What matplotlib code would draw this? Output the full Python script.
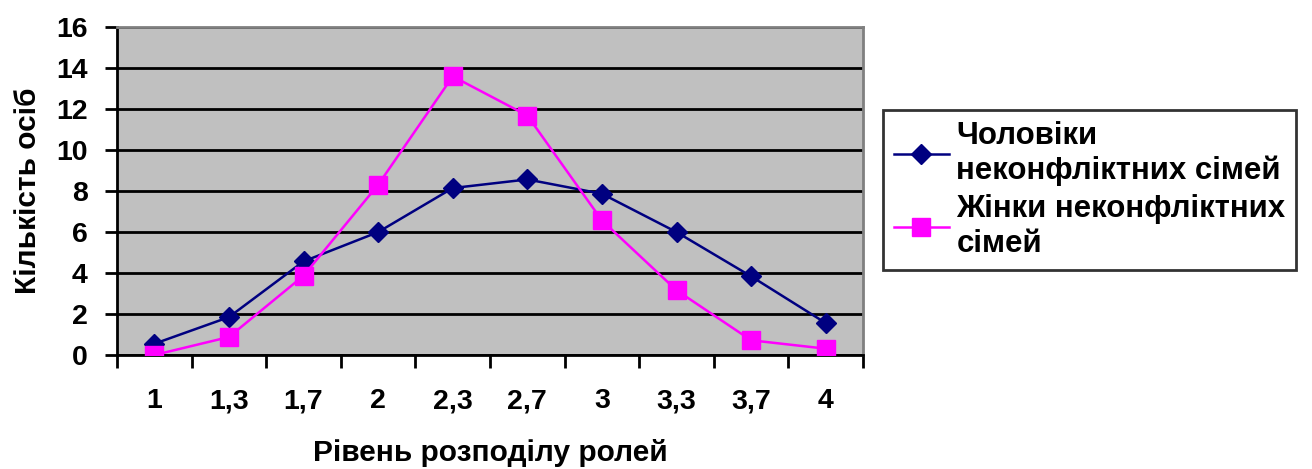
import matplotlib.pyplot as plt
from matplotlib.ticker import FixedLocator

plt.rcParams['font.family'] = ['Liberation Sans', 'DejaVu Sans']
plt.rcParams['font.weight'] = 'bold'

categories = ['1', '1,3', '1,7', '2', '2,3', '2,7', '3', '3,3', '3,7', '4']
men = [0.55, 1.85, 4.57, 6.0, 8.15, 8.57, 7.87, 6.0, 3.84, 1.56]
women = [0.0, 0.88, 3.87, 8.31, 13.6, 11.69, 6.57, 3.16, 0.72, 0.31]
men_label = 'Чоловіки\nнеконфліктних сімей'
women_label = 'Жінки неконфліктних\nсімей'

fig = plt.figure(figsize=(13.12, 4.69), dpi=100)
ax = fig.add_axes([0.0892, 0.243, 0.5686, 0.699])
ax.set_facecolor('#C0C0C0')

xs = list(range(len(categories)))
ax.plot(xs, men, color='#000080', marker='D', markersize=10, linewidth=1.8,
        label=men_label, zorder=3)
ax.plot(xs, women, color='#FF00FF', marker='s', markersize=13, linewidth=1.8,
        label=women_label, zorder=3)

ax.set_xlim(-0.5, len(categories) - 0.5)
ax.set_ylim(0, 16)
ax.set_yticks(range(0, 17, 2))
ax.yaxis.grid(True, color='black', linewidth=2)
ax.set_axisbelow(True)

ax.set_xticks(xs)
ax.set_xticklabels(categories)
ax.xaxis.set_minor_locator(FixedLocator([i - 0.5 for i in range(len(categories) + 1)]))
ax.tick_params(axis='x', which='major', length=0, pad=24, labelsize=20.5)
ax.tick_params(axis='x', which='minor', length=9, width=2, direction='out')
ax.tick_params(axis='y', length=9, width=2, direction='out', labelsize=20.5, pad=12)

for side in ['left', 'bottom']:
    ax.spines[side].set_color('black')
    ax.spines[side].set_linewidth(2)
for side in ['top', 'right']:
    ax.spines[side].set_color('#808080')
    ax.spines[side].set_linewidth(2)

ax.set_xlabel('Рівень розподілу ролей', fontsize=21.5, fontweight='bold', labelpad=18)
ax.set_ylabel('Кількість осіб', fontsize=21.5, fontweight='bold', labelpad=10)

leg = fig.legend(loc='upper left', bbox_to_anchor=(0.673, 0.765), fontsize=22.5,
                 frameon=True, fancybox=False, edgecolor='black', handlelength=1.75,
                 borderpad=0.35, labelspacing=0.25, handletextpad=0.25,
                 borderaxespad=0)
leg.get_frame().set_linewidth(2)

fig.savefig('out.png', dpi=100)
